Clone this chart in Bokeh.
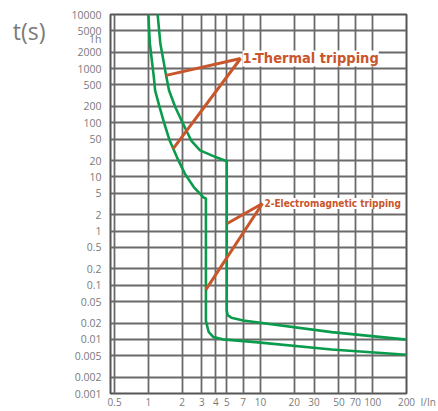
import numpy as np
from bokeh.plotting import figure
from bokeh.models import FixedTicker, CustomJSTickFormatter, Label, LogAxis
from bokeh.embed import file_html
from bokeh.resources import INLINE
from bokeh.core.properties import value

# ---- data ----
x_ticks = [0.5, 1, 2, 3, 4, 5, 7, 10, 20, 30, 50, 70, 100, 200]
y_ticks = [0.001, 0.002, 0.005, 0.01, 0.02, 0.05, 0.1, 0.2, 0.5, 1, 2, 5,
           10, 20, 50, 100, 200, 500, 1000, 2000, 5000, 10000]
hour_ticks = [3600]
y_title_tick = [5000]
x_title_tick = [0.001]

# lower (left) tripping curve
cold_I = [1.0, 1.03, 1.12, 1.15, 1.26, 1.39, 1.55, 1.80, 2.12, 2.54, 3.1, 3.26,
          3.26, 3.45, 3.8, 4.6, 9.0, 43, 200]
cold_t = [10000, 3000, 690, 394, 194, 96, 47, 23, 11.4, 6.5, 4.2, 4.0,
          0.022, 0.0137, 0.0110, 0.0100, 0.0089, 0.0065, 0.0052]

# upper (right) tripping curve
hot_I = [1.21, 1.28, 1.45, 1.53, 1.74, 2.04, 2.41, 2.89, 4.03, 5.0,
         5.0, 5.1, 5.5, 7.0, 43, 200]
hot_t = [10000, 2900, 690, 394, 194, 96, 47, 31, 23, 19.5,
         0.034, 0.028, 0.0250, 0.0223, 0.0136, 0.0099]

# annotation arrows
th_x0 = [6.64, 6.64]
th_y0 = [1540, 1540]
th_x1 = [1.44, 1.66]
th_y1 = [750, 33]
em_x0 = [10.4, 10.4]
em_y0 = [3.23, 3.23]
em_x1 = [5.05, 3.26]
em_y1 = [1.38, 0.083]

GREEN = "#0b9b4c"
ORANGE = "#c9552b"
GRID = "#6a6a6a"
TXT = "#7a7a7a"
ANN_FONT = "DejaVu Sans Condensed"

p = figure(width=438, height=411, x_axis_type="log", y_axis_type="log",
           x_range=(0.46, 200), y_range=(0.001, 10000),
           output_backend="svg", toolbar_location=None,
           min_border_left=110, min_border_right=32,
           min_border_top=14, min_border_bottom=18)
p.background_fill_color = "white"
p.border_fill_color = "white"
p.outline_line_color = "#555555"
p.outline_line_width = 2

p.xaxis.ticker = FixedTicker(ticks=x_ticks)
p.yaxis.ticker = FixedTicker(ticks=y_ticks + hour_ticks)
p.xgrid.ticker = FixedTicker(ticks=x_ticks)
p.ygrid.ticker = FixedTicker(ticks=y_ticks)
p.yaxis.formatter = CustomJSTickFormatter(code="return tick == 3600 ? '1h' : String(tick);")
p.xaxis.formatter = CustomJSTickFormatter(code="return String(tick);")

def style_axis(ax, size):
    ax.axis_line_color = None
    ax.major_tick_line_color = None
    ax.minor_tick_line_color = None
    ax.major_tick_in = 0
    ax.major_tick_out = 0
    ax.minor_tick_in = 0
    ax.minor_tick_out = 0
    ax.major_label_text_font = "Open Sans"
    ax.major_label_text_font_size = size
    ax.major_label_text_color = TXT

style_axis(p.xaxis[0], "10px")
style_axis(p.yaxis[0], "10.5px")
p.yaxis.major_label_standoff = 9
p.xaxis.major_label_standoff = 4

# "t(s)" title as an outer left axis label
ts_axis = LogAxis(ticker=FixedTicker(ticks=y_title_tick),
                  formatter=CustomJSTickFormatter(code="return 't(s)';"))
style_axis(ts_axis, "23px")
ts_axis.major_label_standoff = 23
p.add_layout(ts_axis, "left")

# "I/In" unit on the right, below the frame's bottom edge
in_axis = LogAxis(ticker=FixedTicker(ticks=x_title_tick),
                  formatter=CustomJSTickFormatter(code="return '\\u00a0\\n\\u00a0\\nI/In';"))
style_axis(in_axis, "10px")
in_axis.major_label_text_line_height = 1.0
in_axis.major_label_standoff = 14
p.add_layout(in_axis, "right")

for g in (p.xgrid[0], p.ygrid[0]):
    g.grid_line_color = GRID
    g.grid_line_width = 1.8
    g.minor_grid_line_color = None

p.line(cold_I, cold_t, line_color=GREEN, line_width=2.6)
p.line(hot_I, hot_t, line_color=GREEN, line_width=2.6)

p.segment(th_x0, th_y0, th_x1, th_y1, line_color=ORANGE, line_width=3)
p.segment(em_x0, em_y0, em_x1, em_y1, line_color=ORANGE, line_width=3)

p.add_layout(Label(x=th_x0[0], y=th_y0[0], x_offset=2, text="1-Thermal tripping",
                   text_font=ANN_FONT, text_font_style="bold",
                   text_font_size="14.5px", text_color=ORANGE, text_baseline="middle",
                   background_fill_color="white"))
p.add_layout(Label(x=em_x0[0], y=em_y0[0], x_offset=2, text="2-Electromagnetic tripping",
                   text_font=ANN_FONT, text_font_style="bold",
                   text_font_size="10px", text_color=ORANGE, text_baseline="middle",
                   background_fill_color="white"))

open("out.html", "w").write(file_html(p, INLINE))
